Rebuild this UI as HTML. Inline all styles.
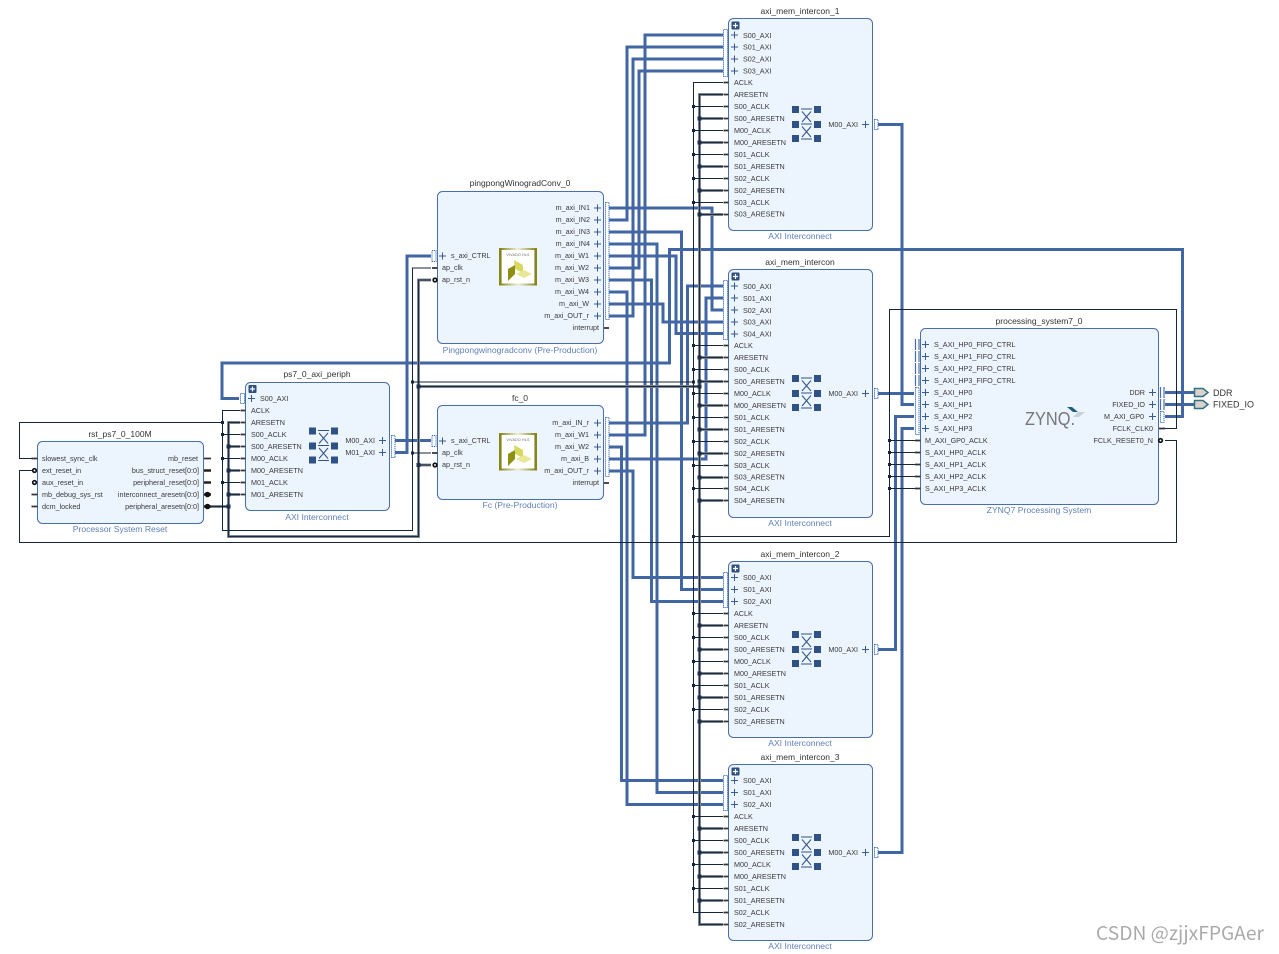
<!DOCTYPE html>
<html><head><meta charset="utf-8"><title>Block Design</title>
<style>
html,body{margin:0;padding:0;background:#fff}
svg{display:block;filter:blur(.3px)}
text{font-family:"Liberation Sans",sans-serif}
.t{font-size:7.2px;fill:#3a3a3a}
.e{font-size:7.2px;fill:#3a3a3a;text-anchor:end}
.n{font-size:8.5px;fill:#333;text-anchor:middle}
.f{font-size:8.6px;fill:#5f7fb8;text-anchor:middle}
.b{fill:#ecf4fd;stroke:#4a6ea9;stroke-width:1}
.bus{fill:none;stroke:#4265a3;stroke-width:3}
.thin{fill:none;stroke:#15263a;stroke-width:1}
.hal{fill:none;stroke:#8b939c;stroke-width:3}
.cor{fill:none;stroke:#1c2c3e;stroke-width:1.2}
.st{fill:none;stroke:#333;stroke-width:1.8}
.dot{fill:none;stroke:#3a6cb8;stroke-width:1;stroke-dasharray:1.2 .8}
.sol{fill:none;stroke:#4a6ea9;stroke-width:1.2}
</style></head><body>
<svg width="1279" height="954" viewBox="0 0 1279 954" xmlns="http://www.w3.org/2000/svg">
<defs>
<path id="p" d="M-3.5 0H3.5M0 -3.5V3.5" stroke="#3a5a94" stroke-width="1" fill="none"/>
<g id="sw">
<path fill="#2f5286" d="M0-18.5h7v7h-7zM22-18.5h7v7h-7zM0-3.5h7v7h-7zM22-3.5h7v7h-7zM0 10.5h7v7h-7zM22 10.5h7v7h-7z"/>
<path fill="none" stroke="#2f5286" stroke-width="1" d="M9-15.5H20M9-.5H20M9 14.5H20M10-13L19-2.5M19-13L10-2.5M10 2L19 12.5M19 2L10 12.5"/>
</g>
<g id="ex"><rect x="0" y="0" width="8" height="8" rx="1" fill="#2f4f80"/><path d="M1.5 4H6.5M4 1.5V6.5" stroke="#fff" stroke-width="1.2"/></g>
<g id="xl">
<linearGradient id="gr" x1="0" x2="1" y1="0" y2="0"><stop offset="0" stop-color="#85851a"/><stop offset=".5" stop-color="#f0f0d8"/><stop offset="1" stop-color="#85851a"/></linearGradient>
<rect x="1" y="1" width="36" height="35.5" fill="#fff" stroke="url(#gr)" stroke-width="2"/>
<rect x="1" y="1" width="1.6" height="35.5" fill="#85851a"/><rect x="35.4" y="1" width="1.6" height="35.5" fill="#85851a"/>
<text x="19" y="8" style="font-size:3.6px;fill:#666;text-anchor:middle;letter-spacing:.2px">VIVADO HLS</text>
<polygon points="15,12 24,17 24,25 16,21" fill="#d8d860"/>
<polygon points="9,21 16,17 16,26 9,33" fill="#8f8f14"/>
<polygon points="17,26 25,22 33,26 25,30" fill="#e8e898"/>
</g>
</defs>

<!-- bus wires -->
<g class="bus">
<path d="M609 208H712V310H723"/>
<path d="M609 220H627V47H723"/>
<path d="M609 232H681.5V589.5H723"/>
<path d="M609 244H657V792.5H723"/>
<path d="M609 256H676V333.5H723"/>
<path d="M609 268H639V71H723"/>
<path d="M609 280H651.5V601.5H723"/>
<path d="M609 292H627V804.5H723"/>
<path d="M609 304H663V322H723"/>
<path d="M609 316H633V59H723"/>
<path d="M609 423H687.5V286H723"/>
<path d="M609 435H645V35H723"/>
<path d="M609 447H621.5V780.5H723"/>
<path d="M609 459H706V298H723"/>
<path d="M609 471H633V577.5H723"/>
<path d="M878 124.5H902V404.5H914"/>
<path d="M878 393.5H914"/>
<path d="M878 649.5H895.5V416.5H914"/>
<path d="M878 852.5H902V428.5H914"/>
<path d="M1165 416.5H1182.5V249.5H669.5V363H222V398.5H239"/>
<path d="M395 440.5H431"/>
<path d="M395 452.5H407V256H431"/>
<path d="M1165 392.5H1194"/>
<path d="M1165 404.5H1194"/>
</g>

<!-- reset thick -->
<g class="hal">
<path d="M240 422.5H228.5V536.5H418.5V280H431"/>
<path d="M228.5 446.5H240M228.5 470.5H240M228.5 494.5H240M211 506.5H228.5M418.5 465H431M418.5 386.5H699.5"/>
<path d="M723 94.5H699.5V924.5H723"/>
<path d="M699.5 118.5H723M699.5 142.5H723M699.5 166.5H723M699.5 190.5H723M699.5 214.5H723M699.5 357.5H723M699.5 381.5H723M699.5 405.5H723M699.5 429.5H723M699.5 453.5H723M699.5 477.5H723M699.5 500.5H723M699.5 625.5H723M699.5 649.5H723M699.5 673.5H723M699.5 697.5H723M699.5 721.5H723M699.5 828.5H723M699.5 852.5H723M699.5 876.5H723M699.5 900.5H723"/>
</g>
<g class="cor">
<path d="M240 422.5H228.5V536.5H418.5V280H431"/>
<path d="M228.5 446.5H240M228.5 470.5H240M228.5 494.5H240M211 506.5H228.5M418.5 465H431M418.5 386.5H699.5"/>
<path d="M723 94.5H699.5V924.5H723"/>
<path d="M699.5 118.5H723M699.5 142.5H723M699.5 166.5H723M699.5 190.5H723M699.5 214.5H723M699.5 357.5H723M699.5 381.5H723M699.5 405.5H723M699.5 429.5H723M699.5 453.5H723M699.5 477.5H723M699.5 500.5H723M699.5 625.5H723M699.5 649.5H723M699.5 673.5H723M699.5 697.5H723M699.5 721.5H723M699.5 828.5H723M699.5 852.5H723M699.5 876.5H723M699.5 900.5H723"/>
</g>

<!-- thin wires -->
<g class="thin">
<path d="M34 458.5H19.5V422.5H222.5"/>
<path d="M240 410.5H222.5V530.5H412.5V268H431"/>
<path d="M222.5 434.5H240M222.5 458.5H240M222.5 482.5H240M412.5 382H693.5M412.5 453H431"/>
<path d="M723 82.5H693.5V912.5H723"/>
<path d="M693.5 106.5H723M693.5 130.5H723M693.5 154.5H723M693.5 178.5H723M693.5 202.5H723M693.5 345.5H723M693.5 369.5H723M693.5 393.5H723M693.5 417.5H723M693.5 441.5H723M693.5 465.5H723M693.5 488.5H723M693.5 613.5H723M693.5 637.5H723M693.5 661.5H723M693.5 685.5H723M693.5 709.5H723M693.5 816.5H723M693.5 840.5H723M693.5 864.5H723M693.5 888.5H723"/>
<path d="M693.5 536.5H889.5V309.5H1176.5V428.5H1165"/>
<path d="M889.5 440.5H915M889.5 452.5H915M889.5 464.5H915M889.5 476.5H915M889.5 488.5H915"/>
<path d="M34 470.5H19.5V542.5H1176.5V440.5H1165"/>
</g>

<!-- junction dots -->
<path fill="#15263a" d="M221 421h3v3h-3zM221 433h3v3h-3zM221 457h3v3h-3zM221 481h3v3h-3zM411 380.5h3v3h-3zM411 451.5h3v3h-3zM692 380.5h3v3h-3zM692 105h3v3h-3zM692 129h3v3h-3zM692 153h3v3h-3zM692 177h3v3h-3zM692 201h3v3h-3zM692 344h3v3h-3zM692 368h3v3h-3zM692 392h3v3h-3zM692 416h3v3h-3zM692 440h3v3h-3zM692 464h3v3h-3zM692 487h3v3h-3zM692 535h3v3h-3zM692 612h3v3h-3zM692 636h3v3h-3zM692 660h3v3h-3zM692 684h3v3h-3zM692 708h3v3h-3zM692 815h3v3h-3zM692 839h3v3h-3zM692 863h3v3h-3zM692 887h3v3h-3zM888 439h3v3h-3zM888 451h3v3h-3zM888 463h3v3h-3zM888 475h3v3h-3zM888 487h3v3h-3z"/>
<path fill="#1b2f4a" d="M226.500 444.500h4v4h-4zM226.500 468.500h4v4h-4zM226.500 492.500h4v4h-4zM226.500 504.500h4v4h-4zM416.500 384.500h4v4h-4zM416.500 463h4v4h-4zM697.500 384.500h4v4h-4zM697.500 116.500h4v4h-4zM697.500 140.500h4v4h-4zM697.500 164.500h4v4h-4zM697.500 188.500h4v4h-4zM697.500 212.500h4v4h-4zM697.500 355.500h4v4h-4zM697.500 379.500h4v4h-4zM697.500 403.500h4v4h-4zM697.500 427.500h4v4h-4zM697.500 451.500h4v4h-4zM697.500 475.500h4v4h-4zM697.500 498.500h4v4h-4zM697.500 623.500h4v4h-4zM697.500 647.500h4v4h-4zM697.500 671.500h4v4h-4zM697.500 695.500h4v4h-4zM697.500 719.500h4v4h-4zM697.500 826.500h4v4h-4zM697.500 850.500h4v4h-4zM697.500 874.500h4v4h-4zM697.500 898.500h4v4h-4z"/>

<!-- blocks -->
<rect class="b" x="37.5" y="441.500" width="166" height="82" rx="5"/>
<rect class="b" x="245.500" y="382.500" width="144" height="128" rx="5"/>
<rect class="b" x="437.500" y="191.500" width="166" height="152" rx="5"/>
<rect class="b" x="437.500" y="405.500" width="166" height="94" rx="5"/>
<rect class="b" x="728.500" y="18.500" width="144" height="212" rx="5"/>
<rect class="b" x="728.500" y="269.500" width="144" height="248" rx="5"/>
<rect class="b" x="728.500" y="561.500" width="144" height="176" rx="5"/>
<rect class="b" x="728.500" y="764.500" width="144" height="176" rx="5"/>
<rect class="b" x="920.500" y="328.500" width="238" height="176" rx="5"/>

<!-- port stubs -->
<path class="st" d="M723.500 82.500h5M723.500 94.500h5M723.500 106.500h5M723.500 118.500h5M723.500 130.500h5M723.500 142.500h5M723.500 154.500h5M723.500 166.500h5M723.500 178.500h5M723.500 190.500h5M723.500 202.500h5M723.500 214.500h5
M723.500 345.500h5M723.500 357.500h5M723.500 369.500h5M723.500 381.500h5M723.500 393.500h5M723.500 405.500h5M723.500 417.500h5M723.500 429.500h5M723.500 441.500h5M723.500 453.500h5M723.500 465.500h5M723.500 477.500h5M723.500 488.500h5M723.500 500.500h5
M723.500 613.500h5M723.500 625.500h5M723.500 637.500h5M723.500 649.500h5M723.500 661.500h5M723.500 673.500h5M723.500 685.500h5M723.500 697.500h5M723.500 709.500h5M723.500 721.500h5
M723.500 816.500h5M723.500 828.500h5M723.500 840.500h5M723.500 852.500h5M723.500 864.500h5M723.500 876.500h5M723.500 888.500h5M723.500 900.500h5M723.500 912.500h5M723.500 924.500h5
M240.500 410.500h5M240.500 422.500h5M240.500 434.500h5M240.500 446.500h5M240.500 458.500h5M240.500 470.500h5M240.500 482.500h5M240.500 494.500h5
M31.500 458.500h6M31.500 494.500h6M31.500 506.500h6M204 458.500h7
M432 268h5.500M604 328h5M604 483h5M432 453h5.500
M915 440.500h5.500M915 452.500h5.500M915 464.500h5.500M915 476.500h5.500M915 488.500h5.500M1159 428.500h6"/>
<path fill="none" stroke="#222" stroke-width="2.600" d="M204 470.500h7M204 482.500h7M204 494.500h7M204 506.500h7"/>
<g fill="#fff" stroke="#111" stroke-width="1.700">
<circle cx="34.500" cy="470.500" r="1.800"/><circle cx="34.500" cy="482.500" r="1.800"/>
<circle cx="435" cy="280" r="1.800"/><circle cx="435" cy="465" r="1.800"/>
<circle cx="1160.500" cy="440.500" r="1.800"/>
</g>
<g fill="#111"><circle cx="207.500" cy="494.500" r="2.800"/><circle cx="207.500" cy="506.500" r="2.800"/></g>

<!-- bus port boxes -->
<rect class="dot" x="723.500" y="29.500" width="4" height="47"/>
<rect class="dot" x="723.500" y="280.500" width="4" height="59"/>
<rect class="dot" x="723.500" y="572.500" width="4" height="35"/>
<rect class="dot" x="723.500" y="775.500" width="4" height="35"/>
<rect class="dot" x="874.500" y="119.500" width="3.500" height="10"/>
<rect class="dot" x="874.500" y="388.500" width="3.500" height="10"/>
<rect class="dot" x="874.500" y="644.500" width="3.500" height="10"/>
<rect class="dot" x="874.500" y="847.500" width="3.500" height="10"/>
<rect class="dot" x="240.500" y="393.500" width="4" height="10"/>
<rect class="dot" x="391.500" y="435.500" width="3.500" height="22"/>
<rect class="dot" x="432" y="250.500" width="4" height="11"/>
<rect class="dot" x="432" y="435.500" width="4" height="11"/>
<rect class="dot" x="605.500" y="202.500" width="3.500" height="117"/>
<rect class="dot" x="605.500" y="417.500" width="3.500" height="59"/>
<rect class="dot" x="915.500" y="387.500" width="3.500" height="47"/>
<rect class="dot" x="1160.500" y="411.500" width="3.500" height="11"/>
<path class="sol" d="M915.500 339V350M919 339V350M915.500 351V362M919 351V362M915.500 363V374M919 363V374M915.500 375V386M919 375V386M1160.500 387V398M1164 387V398M1160.500 399V410M1164 399V410"/>

<!-- expand buttons -->
<use href="#ex" x="731.500" y="21.500"/><use href="#ex" x="731.500" y="272.500"/><use href="#ex" x="731.500" y="564.500"/><use href="#ex" x="731.500" y="767.500"/><use href="#ex" x="248.500" y="385"/>

<!-- plus marks -->
<use href="#p" x="734.500" y="35"/><use href="#p" x="734.500" y="47"/><use href="#p" x="734.500" y="59"/><use href="#p" x="734.500" y="71"/><use href="#p" x="865.500" y="124.500"/>
<use href="#p" x="734.500" y="286"/><use href="#p" x="734.500" y="298"/><use href="#p" x="734.500" y="310"/><use href="#p" x="734.500" y="322"/><use href="#p" x="734.500" y="334"/><use href="#p" x="865.500" y="393.500"/>
<use href="#p" x="734.500" y="577.500"/><use href="#p" x="734.500" y="589.500"/><use href="#p" x="734.500" y="601.500"/><use href="#p" x="865.500" y="649.500"/>
<use href="#p" x="734.500" y="780.500"/><use href="#p" x="734.500" y="792.500"/><use href="#p" x="734.500" y="804.500"/><use href="#p" x="865.500" y="852.500"/>
<use href="#p" x="251.500" y="398.500"/><use href="#p" x="382.500" y="440.500"/><use href="#p" x="382.500" y="452.500"/>
<use href="#p" x="442.500" y="256"/><use href="#p" x="442.500" y="441"/>
<use href="#p" x="597.500" y="208"/><use href="#p" x="597.500" y="220"/><use href="#p" x="597.500" y="232"/><use href="#p" x="597.500" y="244"/><use href="#p" x="597.500" y="256"/><use href="#p" x="597.500" y="268"/><use href="#p" x="597.500" y="280"/><use href="#p" x="597.500" y="292"/><use href="#p" x="597.500" y="304"/><use href="#p" x="597.500" y="316"/>
<use href="#p" x="597.500" y="423"/><use href="#p" x="597.500" y="435"/><use href="#p" x="597.500" y="447"/><use href="#p" x="597.500" y="459"/><use href="#p" x="597.500" y="471"/>
<use href="#p" x="925.500" y="344.500"/><use href="#p" x="925.500" y="356.500"/><use href="#p" x="925.500" y="368.500"/><use href="#p" x="925.500" y="380.500"/><use href="#p" x="925.500" y="392.500"/><use href="#p" x="925.500" y="404.500"/><use href="#p" x="925.500" y="416.500"/><use href="#p" x="925.500" y="428.500"/>
<use href="#p" x="1152.500" y="392.500"/><use href="#p" x="1152.500" y="404.500"/><use href="#p" x="1152.500" y="416.500"/>

<!-- switch icons -->
<use href="#sw" x="792" y="124.500"/><use href="#sw" x="792" y="393.500"/><use href="#sw" x="792" y="649.500"/><use href="#sw" x="792" y="852.500"/><use href="#sw" x="309" y="446"/>

<!-- logos -->
<use href="#xl" x="499" y="248"/><use href="#xl" x="499" y="433"/>

<text x="1025" y="425" style="font-size:18.500px;fill:#777" textLength="50" lengthAdjust="spacingAndGlyphs">ZYNQ.</text>
<polygon points="1067,407 1072,407 1078,412 1073,412" fill="#1f5f7f"/>
<polygon points="1078,412 1085,412 1079,417 1073,417" fill="#c4d2dc"/>

<!-- external ports -->
<g fill="#d9d2ce" stroke="#33707f" stroke-width="1.500">
<polygon points="1194.500,388.500 1203,388.500 1208,392.500 1203,396.500 1194.500,396.500"/>
<polygon points="1194.500,400.500 1203,400.500 1208,404.500 1203,408.500 1194.500,408.500"/>
</g>
<text x="1213" y="396" style="font-size:9px;fill:#333">DDR</text>
<text x="1213" y="407.500" style="font-size:9px;fill:#333">FIXED_IO</text>

<!-- titles -->
<text class="n" x="800" y="14">axi_mem_intercon_1</text>
<text class="n" x="800" y="265">axi_mem_intercon</text>
<text class="n" x="800" y="557">axi_mem_intercon_2</text>
<text class="n" x="800" y="760">axi_mem_intercon_3</text>
<text class="n" x="520" y="186">pingpongWinogradConv_0</text>
<text class="n" x="520" y="401">fc_0</text>
<text class="n" x="317" y="377">ps7_0_axi_periph</text>
<text class="n" x="120" y="437">rst_ps7_0_100M</text>
<text class="n" x="1039" y="324">processing_system7_0</text>

<text class="f" x="800" y="239">AXI Interconnect</text>
<text class="f" x="800" y="526">AXI Interconnect</text>
<text class="f" x="800" y="746">AXI Interconnect</text>
<text class="f" x="800" y="949">AXI Interconnect</text>
<text class="f" x="520" y="353">Pingpongwinogradconv (Pre-Production)</text>
<text class="f" x="520" y="508">Fc (Pre-Production)</text>
<text class="f" x="317" y="520">AXI Interconnect</text>
<text class="f" x="120" y="532">Processor System Reset</text>
<text class="f" x="1039" y="513">ZYNQ7 Processing System</text>

<!-- intercon_1 -->
<text class="t" x="743" y="38">S00_AXI</text><text class="t" x="743" y="49.500">S01_AXI</text><text class="t" x="743" y="61.500">S02_AXI</text><text class="t" x="743" y="73.500">S03_AXI</text>
<text class="t" x="734" y="85">ACLK</text><text class="t" x="734" y="97">ARESETN</text><text class="t" x="734" y="109">S00_ACLK</text><text class="t" x="734" y="121">S00_ARESETN</text><text class="t" x="734" y="133">M00_ACLK</text><text class="t" x="734" y="145">M00_ARESETN</text><text class="t" x="734" y="157">S01_ACLK</text><text class="t" x="734" y="169">S01_ARESETN</text><text class="t" x="734" y="181">S02_ACLK</text><text class="t" x="734" y="193">S02_ARESETN</text><text class="t" x="734" y="205">S03_ACLK</text><text class="t" x="734" y="216.500">S03_ARESETN</text>
<text class="e" x="858" y="127">M00_AXI</text>
<!-- intercon -->
<text class="t" x="743" y="289">S00_AXI</text><text class="t" x="743" y="301">S01_AXI</text><text class="t" x="743" y="313">S02_AXI</text><text class="t" x="743" y="324.500">S03_AXI</text><text class="t" x="743" y="336.500">S04_AXI</text>
<text class="t" x="734" y="348">ACLK</text><text class="t" x="734" y="360">ARESETN</text><text class="t" x="734" y="372">S00_ACLK</text><text class="t" x="734" y="384">S00_ARESETN</text><text class="t" x="734" y="396">M00_ACLK</text><text class="t" x="734" y="408">M00_ARESETN</text><text class="t" x="734" y="420">S01_ACLK</text><text class="t" x="734" y="432">S01_ARESETN</text><text class="t" x="734" y="444">S02_ACLK</text><text class="t" x="734" y="456">S02_ARESETN</text><text class="t" x="734" y="468">S03_ACLK</text><text class="t" x="734" y="479.500">S03_ARESETN</text><text class="t" x="734" y="491">S04_ACLK</text><text class="t" x="734" y="503">S04_ARESETN</text>
<text class="e" x="858" y="396">M00_AXI</text>
<!-- intercon_2 -->
<text class="t" x="743" y="580">S00_AXI</text><text class="t" x="743" y="592">S01_AXI</text><text class="t" x="743" y="604">S02_AXI</text>
<text class="t" x="734" y="616">ACLK</text><text class="t" x="734" y="628">ARESETN</text><text class="t" x="734" y="640">S00_ACLK</text><text class="t" x="734" y="652">S00_ARESETN</text><text class="t" x="734" y="664">M00_ACLK</text><text class="t" x="734" y="676">M00_ARESETN</text><text class="t" x="734" y="688">S01_ACLK</text><text class="t" x="734" y="700">S01_ARESETN</text><text class="t" x="734" y="712">S02_ACLK</text><text class="t" x="734" y="724">S02_ARESETN</text>
<text class="e" x="858" y="652">M00_AXI</text>
<!-- intercon_3 -->
<text class="t" x="743" y="783">S00_AXI</text><text class="t" x="743" y="795">S01_AXI</text><text class="t" x="743" y="807">S02_AXI</text>
<text class="t" x="734" y="819">ACLK</text><text class="t" x="734" y="831">ARESETN</text><text class="t" x="734" y="843">S00_ACLK</text><text class="t" x="734" y="855">S00_ARESETN</text><text class="t" x="734" y="867">M00_ACLK</text><text class="t" x="734" y="879">M00_ARESETN</text><text class="t" x="734" y="891">S01_ACLK</text><text class="t" x="734" y="903">S01_ARESETN</text><text class="t" x="734" y="915">S02_ACLK</text><text class="t" x="734" y="927">S02_ARESETN</text>
<text class="e" x="858" y="855">M00_AXI</text>
<!-- ps7_0_axi_periph -->
<text class="t" x="260" y="401">S00_AXI</text>
<text class="t" x="251" y="413">ACLK</text><text class="t" x="251" y="425">ARESETN</text><text class="t" x="251" y="437">S00_ACLK</text><text class="t" x="251" y="449">S00_ARESETN</text><text class="t" x="251" y="461">M00_ACLK</text><text class="t" x="251" y="473">M00_ARESETN</text><text class="t" x="251" y="485">M01_ACLK</text><text class="t" x="251" y="497">M01_ARESETN</text>
<text class="e" x="375" y="443">M00_AXI</text><text class="e" x="375" y="455">M01_AXI</text>
<!-- rst -->
<text class="t" x="42" y="461">slowest_sync_clk</text><text class="t" x="42" y="473">ext_reset_in</text><text class="t" x="42" y="485">aux_reset_in</text><text class="t" x="42" y="497">mb_debug_sys_rst</text><text class="t" x="42" y="509">dcm_locked</text>
<text class="e" x="198" y="461">mb_reset</text><text class="e" x="199" y="473">bus_struct_reset[0:0]</text><text class="e" x="199" y="485">peripheral_reset[0:0]</text><text class="e" x="199" y="497">interconnect_aresetn[0:0]</text><text class="e" x="199" y="509">peripheral_aresetn[0:0]</text>
<!-- pingpong -->
<text class="t" x="451" y="258">s_axi_CTRL</text><text class="t" x="442" y="270">ap_clk</text><text class="t" x="442" y="282">ap_rst_n</text>
<text class="e" x="590" y="210">m_axi_IN1</text><text class="e" x="590" y="222">m_axi_IN2</text><text class="e" x="590" y="234">m_axi_IN3</text><text class="e" x="590" y="246">m_axi_IN4</text><text class="e" x="589" y="258">m_axi_W1</text><text class="e" x="589" y="270">m_axi_W2</text><text class="e" x="589" y="282">m_axi_W3</text><text class="e" x="589" y="294">m_axi_W4</text><text class="e" x="589" y="306">m_axi_W</text><text class="e" x="589" y="318">m_axi_OUT_r</text><text class="e" x="599" y="330">interrupt</text>
<!-- fc -->
<text class="t" x="451" y="443">s_axi_CTRL</text><text class="t" x="442" y="455">ap_clk</text><text class="t" x="442" y="467">ap_rst_n</text>
<text class="e" x="589" y="425">m_axi_IN_r</text><text class="e" x="589" y="437">m_axi_W1</text><text class="e" x="589" y="449">m_axi_W2</text><text class="e" x="589" y="461">m_axi_B</text><text class="e" x="589" y="473">m_axi_OUT_r</text><text class="e" x="599" y="485">interrupt</text>
<!-- PS -->
<text class="t" x="934" y="347">S_AXI_HP0_FIFO_CTRL</text><text class="t" x="934" y="359">S_AXI_HP1_FIFO_CTRL</text><text class="t" x="934" y="371">S_AXI_HP2_FIFO_CTRL</text><text class="t" x="934" y="383">S_AXI_HP3_FIFO_CTRL</text><text class="t" x="934" y="395">S_AXI_HP0</text><text class="t" x="934" y="407">S_AXI_HP1</text><text class="t" x="934" y="419">S_AXI_HP2</text><text class="t" x="934" y="431">S_AXI_HP3</text>
<text class="t" x="925" y="443">M_AXI_GP0_ACLK</text><text class="t" x="925" y="455">S_AXI_HP0_ACLK</text><text class="t" x="925" y="467">S_AXI_HP1_ACLK</text><text class="t" x="925" y="479">S_AXI_HP2_ACLK</text><text class="t" x="925" y="491">S_AXI_HP3_ACLK</text>
<text class="e" x="1145" y="395">DDR</text><text class="e" x="1145" y="407">FIXED_IO</text><text class="e" x="1144" y="419">M_AXI_GP0</text><text class="e" x="1153" y="431">FCLK_CLK0</text><text class="e" x="1153" y="443">FCLK_RESET0_N</text>

<text x="1096" y="940" style="font-family:'Noto Sans CJK SC',sans-serif;font-size:19px;fill:#aaa" textLength="168" lengthAdjust="spacingAndGlyphs">CSDN @zjjxFPGAer</text>
</svg>
</body></html>
